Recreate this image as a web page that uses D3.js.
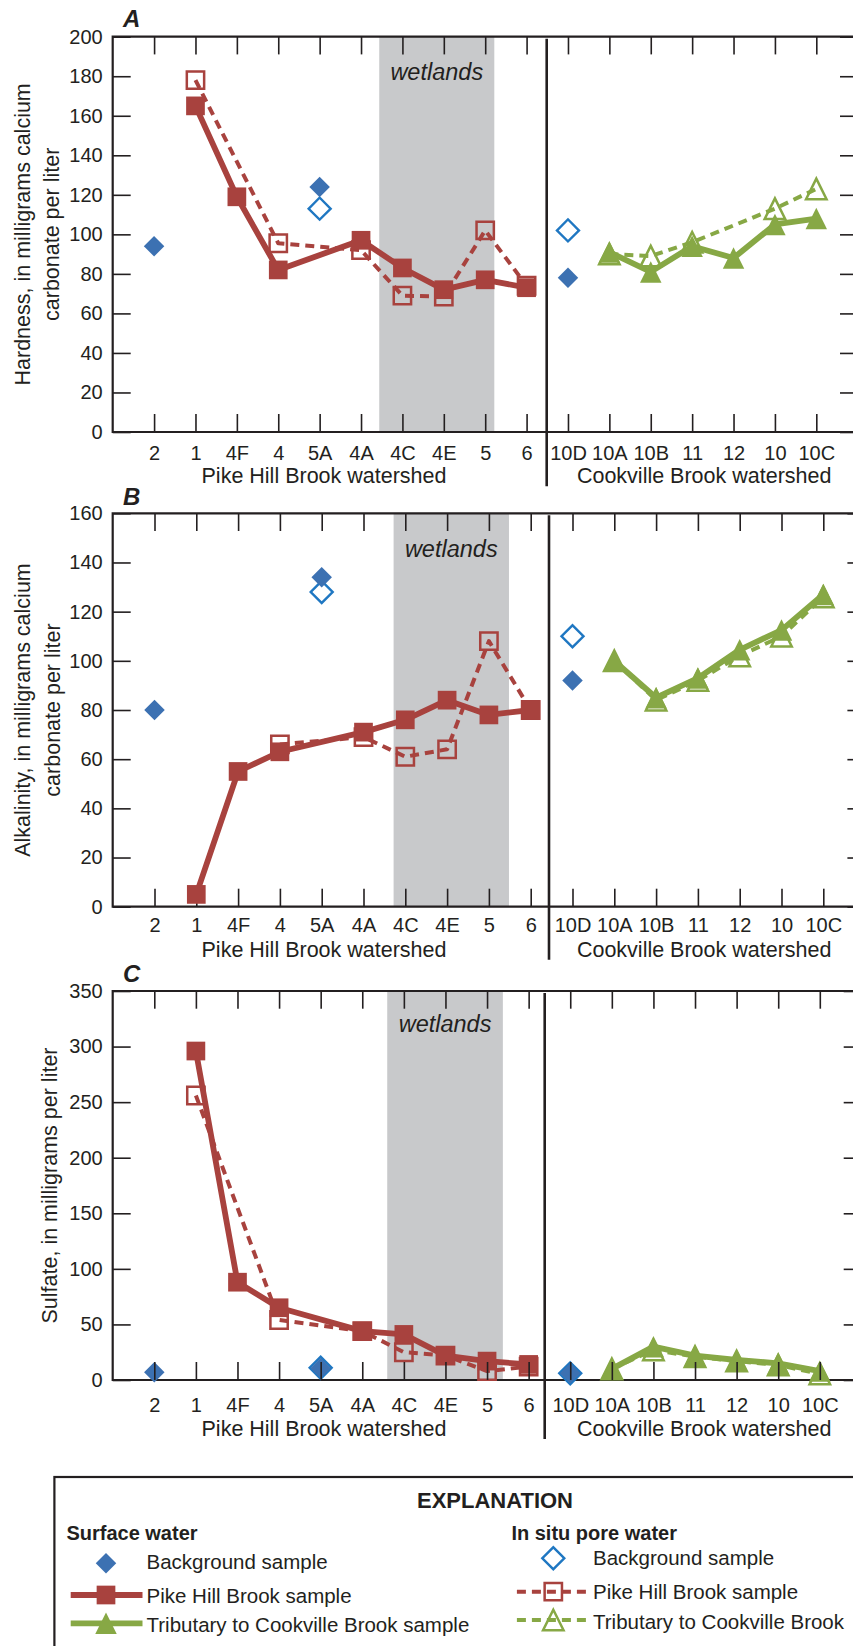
<!DOCTYPE html>
<html>
<head>
<meta charset="utf-8">
<script src="https://cdn.jsdelivr.net/npm/d3@7"></script>
<style>
  html, body { margin: 0; padding: 0; background: #fff; }
  svg { display: block; }
  text { fill: #231f20; font-family: "Liberation Sans", Arial, sans-serif; }
  .tick text { font-family: "Liberation Sans Narrow", "Arial Narrow", "Liberation Sans", sans-serif; font-size: 20px; }
</style>
</head>
<body>
<svg id="chart" width="853" height="1646"></svg>
<script>
// =============================================================================
// Hardness / alkalinity / sulfate along Pike Hill Brook and Cookville Brook
// =============================================================================

// ---- Sites (x categories) ----
const sites = ['2', '1', '4F', '4', '5A', '4A', '4C', '4E', '5', '6', '10D', '10A', '10B', '11', '12', '10', '10C'];
const bgSites = ['2', '5A', '10D'];
const pikeSites = ['1', '4F', '4', '5A', '4A', '4C', '4E', '5', '6'];
const tribSites = ['10A', '10B', '11', '12', '10', '10C'];

// ---- A: Hardness, mg/L as CaCO3 ----
const hardBgSurface = [94, 124, 78];
const hardBgPore = [null, 113, 102];
const hardPikeSurface = [165, 119, 82, null, 97, 83, 72, 77, 73];
const hardPikePore = [178, null, 95.5, null, 92, 69, 68.5, 102, 74];
const hardTribSurface = [91, 81, 94, 88, 105, 108];
const hardTribPore = [90, 89, 96, null, 113, 123];

// ---- B: Alkalinity, mg/L as CaCO3 ----
const alkBgSurface = [80, 134, 92];
const alkBgPore = [null, 128, 110];
const alkPikeSurface = [5, 55, 63, null, 71, 76, 84, 78, 80];
const alkPikePore = [null, null, 66, null, 69, 61, 64, 108, 80];
const alkTribSurface = [100, 85, 93, 104.5, 112.5, 127];
const alkTribPore = [100, 84, 92, 102, 110, 126];

// ---- C: Sulfate, mg/L ----
const sulfBgSurface = [7, 10.5, 6];
const sulfBgPore = [null, 11, 6];
const sulfPikeSurface = [296, 88, 65, null, 44, 41, 22, 17, 14];
const sulfPikePore = [256, null, 54, null, 44, 25, 22, 8, 12];
const sulfTribSurface = [10, 30, 22, 18, 15, 8];
const sulfTribPore = [10, 27, 21, 17, 13.5, 5.5];

// wetlands reach, in site-index units (between 4A/4C and 5/6)
const wetlandsA = [5.44, 8.22];
const wetlandsB = [5.72, 8.48];
const wetlandsC = [5.6, 8.38];

const legendSurface = ['Background sample', 'Pike Hill Brook sample', 'Tributary to Cookville Brook sample'];
const legendPore = ['Background sample', 'Pike Hill Brook sample', 'Tributary to Cookville Brook'];

// ---- Colours / layout ----
const INK = '#231f20', RED = '#a8423e', GREEN = '#87a845';
const BLUE_FILL = '#3c71b2', BLUE_OPEN = '#1f77c2', GRAY = '#c8c9cb';
const LEFT = 112.7;

const triangle = {
  draw(ctx, size) {
    const r = Math.sqrt(size) / 2;
    ctx.moveTo(0, -r); ctx.lineTo(r, r); ctx.lineTo(-r, r); ctx.closePath();
  }
};

const styles = {
  pikePore:    { type: d3.symbolSquare, size: 300, fill: 'none', stroke: RED, sw: 2.5, color: RED, lw: 4, dash: '9,6' },
  pikeSurface: { type: d3.symbolSquare, size: 350, fill: RED, color: RED, lw: 5.8 },
  tribPore:    { type: triangle, size: 420, fill: 'none', stroke: GREEN, sw: 2.5, color: GREEN, lw: 4, dash: '9,6' },
  tribSurface: { type: triangle, size: 460, fill: GREEN, color: GREEN, lw: 5.8 },
  bgPore:      { type: d3.symbolSquare, size: 242, fill: 'none', stroke: BLUE_OPEN, sw: 2.4, rotate: 45 },
  bgSurface:   { type: d3.symbolSquare, size: 210, fill: BLUE_FILL, rotate: 45 }
};

const panels = [
  { letter: 'A', yTitle: ['Hardness, in milligrams calcium', 'carbonate per liter'], yTitleX: [29.5, 59.3],
    yMax: 200, yStep: 20, top: 36.7, bottom: 432, right: 857.7, divider: 546.7,
    wet: wetlandsA, wetDy: 43.3, labelDy: 28, titleDy: 51.3, letterDy: -10, ticksOnTop: false,
    data: { bgSurface: hardBgSurface, bgPore: hardBgPore, pikeSurface: hardPikeSurface,
            pikePore: hardPikePore, tribSurface: hardTribSurface, tribPore: hardTribPore } },
  { letter: 'B', yTitle: ['Alkalinity, in milligrams calcium', 'carbonate per liter'], yTitleX: [29.5, 59.5],
    yMax: 160, yStep: 20, top: 513.3, bottom: 906.7, right: 865.1, divider: 549,
    wet: wetlandsB, wetDy: 44, labelDy: 25, titleDy: 50, letterDy: -8.3, ticksOnTop: false,
    data: { bgSurface: alkBgSurface, bgPore: alkBgPore, pikeSurface: alkPikeSurface,
            pikePore: alkPikePore, tribSurface: alkTribSurface, tribPore: alkTribPore } },
  { letter: 'C', yTitle: ['Sulfate, in milligrams per liter'], yTitleX: [56.5],
    yMax: 350, yStep: 50, top: 991, bottom: 1380, right: 861.4, divider: 544.7,
    wet: wetlandsC, wetDy: 40.7, labelDy: 31.7, titleDy: 56, letterDy: -9.3, ticksOnTop: true,
    data: { bgSurface: sulfBgSurface, bgPore: sulfBgPore, pikeSurface: sulfPikeSurface,
            pikePore: sulfPikePore, tribSurface: sulfTribSurface, tribPore: sulfTribPore } }
];

const svg = d3.select('#chart');

function symbolPath(st) {
  return d3.symbol().type(st.type).size(st.size)();
}

function styleMarker(sel, st) {
  sel.attr('d', symbolPath(st))
    .attr('fill', st.fill)
    .attr('stroke', st.stroke || 'none')
    .attr('stroke-width', st.sw || 0);
}

// ---- one series: optional connecting line + markers ----
function drawSeries(g, x, y, siteList, values, st, withLine) {
  const pts = siteList.map((s, i) => ({ site: s, v: values[i] })).filter(d => d.v != null);
  if (withLine) {
    g.append('path').datum(pts)
      .attr('fill', 'none').attr('stroke', st.color).attr('stroke-width', st.lw)
      .attr('stroke-dasharray', st.dash || null).attr('stroke-linejoin', 'round')
      .attr('d', d3.line().x(d => x(d.site)).y(d => y(d.v)));
  }
  g.selectAll(null).data(pts).enter().append('path')
    .attr('transform', d => `translate(${x(d.site)},${y(d.v)})` + (st.rotate ? ` rotate(${st.rotate})` : ''))
    .call(styleMarker, st);
}

function renderPanel(p) {
  const g = svg.append('g');
  const x = d3.scalePoint().domain(sites).range([LEFT, p.right]).padding(1);
  const xi = d3.scaleLinear().domain([-1, sites.length]).range([LEFT, p.right]);
  const y = d3.scaleLinear().domain([0, p.yMax]).range([p.bottom, p.top]);
  const yTicks = d3.range(0, p.yMax + 1, p.yStep);

  // wetlands band
  g.append('rect')
    .attr('x', xi(p.wet[0])).attr('y', p.top)
    .attr('width', xi(p.wet[1]) - xi(p.wet[0])).attr('height', p.bottom - p.top)
    .attr('fill', GRAY);
  g.append('text')
    .attr('x', xi((p.wet[0] + p.wet[1]) / 2)).attr('y', p.top + p.wetDy)
    .attr('text-anchor', 'middle')
    .style('font-style', 'italic').style('font-size', '23.5px')
    .text('wetlands');

  function drawAxes() {
    const axes = g.append('g');
    axes.append('g').attr('transform', `translate(${LEFT},0)`)
      .call(d3.axisLeft(y).tickValues(yTicks).tickSize(-18).tickPadding(10));
    const bottom = axes.append('g').attr('transform', `translate(0,${p.bottom})`)
      .call(d3.axisBottom(x).tickSize(-18).tickPadding(0));
    bottom.selectAll('text').attr('y', p.labelDy).attr('dy', null);
    axes.append('g').attr('transform', `translate(0,${p.top})`)
      .call(d3.axisTop(x).tickSize(-17.7).tickFormat(''));
    axes.append('g').attr('transform', `translate(${p.right},0)`)
      .call(d3.axisRight(y).tickValues(yTicks).tickSize(-17.7).tickFormat(''));
    axes.selectAll('g').attr('font-family', null).attr('font-size', null);
    axes.selectAll('.domain').remove();
    axes.selectAll('.tick line').attr('stroke', INK).attr('stroke-width', 1.6);
    axes.selectAll('.tick text').attr('fill', INK);
  }

  if (!p.ticksOnTop) drawAxes();

  // frame (right side runs off the page)
  g.append('path')
    .attr('d', `M${p.right},${p.top}H${LEFT}V${p.bottom}H${p.right}`)
    .attr('fill', 'none').attr('stroke', INK).attr('stroke-width', 2.2);

  // watershed divider
  g.append('line')
    .attr('x1', p.divider).attr('x2', p.divider)
    .attr('y1', p.top + 2).attr('y2', p.bottom + p.titleDy + 3)
    .attr('stroke', INK).attr('stroke-width', 2.6);

  // series, pore water under surface water
  const d = p.data;
  drawSeries(g, x, y, pikeSites, d.pikePore, styles.pikePore, true);
  drawSeries(g, x, y, pikeSites, d.pikeSurface, styles.pikeSurface, true);
  drawSeries(g, x, y, tribSites, d.tribPore, styles.tribPore, true);
  drawSeries(g, x, y, tribSites, d.tribSurface, styles.tribSurface, true);
  drawSeries(g, x, y, bgSites, d.bgPore, styles.bgPore, false);
  drawSeries(g, x, y, bgSites, d.bgSurface, styles.bgSurface, false);

  if (p.ticksOnTop) drawAxes();

  // watershed titles
  g.append('text').attr('x', 324).attr('y', p.bottom + p.titleDy)
    .attr('text-anchor', 'middle').style('font-size', '21.5px').text('Pike Hill Brook watershed');
  g.append('text').attr('x', 704.2).attr('y', p.bottom + p.titleDy)
    .attr('text-anchor', 'middle').style('font-size', '21.5px').text('Cookville Brook watershed');

  // y title
  p.yTitle.forEach((t, i) => {
    g.append('text')
      .attr('transform', `translate(${p.yTitleX[i]},${(p.top + p.bottom) / 2}) rotate(-90)`)
      .attr('text-anchor', 'middle').style('font-size', '21.5px').text(t);
  });

  // panel letter
  g.append('text').attr('x', 123).attr('y', p.top + p.letterDy)
    .style('font-weight', 'bold').style('font-style', 'italic').style('font-size', '24px')
    .text(p.letter);
}

panels.forEach(renderPanel);

// ---- Explanation ----
const lg = svg.append('g');
lg.append('rect').attr('x', 54.4).attr('y', 1477).attr('width', 900).attr('height', 300)
  .attr('fill', 'none').attr('stroke', INK).attr('stroke-width', 2.2);
lg.append('text').attr('x', 495).attr('y', 1508.3).attr('text-anchor', 'middle')
  .style('font-weight', 'bold').style('font-size', '22px').text('EXPLANATION');
lg.append('text').attr('x', 66.4).attr('y', 1540)
  .style('font-weight', 'bold').style('font-size', '20px').text('Surface water');
lg.append('text').attr('x', 511.4).attr('y', 1540)
  .style('font-weight', 'bold').style('font-size', '20px').text('In situ pore water');

function legendColumn(labels, keys, cx, lineX, textX, rowsY, baseDy) {
  labels.forEach((label, i) => {
    const st = styles[keys[i]];
    const yy = rowsY[i];
    if (i > 0) {
      lg.append('line').attr('x1', lineX[0]).attr('x2', lineX[1]).attr('y1', yy).attr('y2', yy)
        .attr('stroke', st.color).attr('stroke-width', st.lw).attr('stroke-dasharray', st.dash || null);
    }
    lg.append('path')
      .attr('transform', `translate(${cx},${yy})` + (st.rotate ? ` rotate(${st.rotate})` : ''))
      .call(styleMarker, st);
    lg.append('text').attr('x', textX).attr('y', yy + baseDy[i])
      .style('font-size', '20.5px').text(label);
  });
}

legendColumn(legendSurface, ['bgSurface', 'pikeSurface', 'tribSurface'],
  106, [70.7, 142.5], 146.5, [1563.3, 1595, 1623.3], [6, 7.5, 8.7]);
legendColumn(legendPore, ['bgPore', 'pikePore', 'tribPore'],
  553.3, [516.9, 586.5], 593, [1558.3, 1591.7, 1620], [7, 7.5, 9]);
</script>
</body>
</html>
